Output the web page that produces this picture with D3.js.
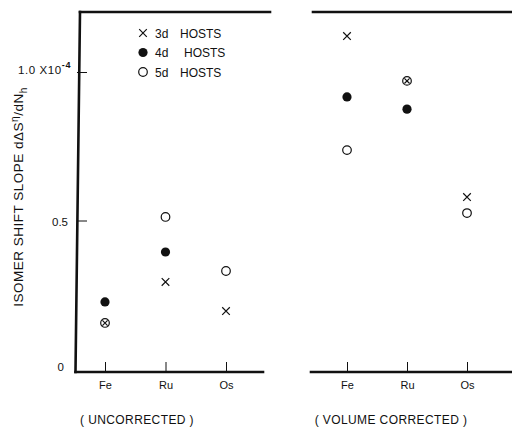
<!DOCTYPE html>
<html>
<head>
<meta charset="utf-8">
<script src="https://cdn.jsdelivr.net/npm/d3@7"></script>
<style>
  body { margin: 0; background: #fff; }
  text { font-family: "Liberation Sans", Arial, sans-serif; fill: #111; }
</style>
</head>
<body>
<div id="graph"></div>
<script>
// values (units of 1e-4)
var elements = ['Fe', 'Ru', 'Os'];
var hosts = ['3d', '4d', '5d'];
var uncorr3d = [0.155, 0.293, 0.195];
var uncorr4d = [0.226, 0.394, null];
var uncorr5d = [0.155, 0.512, 0.330];
var corr3d = [1.121, 0.970, 0.579];
var corr4d = [0.916, 0.875, null];
var corr5d = [0.737, 0.970, 0.525];
var yTicks = [0, 0.5, 1.0];

var width = 512, height = 427;
var ink = '#111';

var svg = d3.select('#graph')
    .append('svg')
        .attr('width', width)
        .attr('height', height);

var y = d3.scaleLinear()
    .domain([0, 1])
    .range([369, 72]);

var xLeft = d3.scalePoint().domain(elements).range([105, 226]);
var xRight = d3.scalePoint().domain(elements).range([347, 467]);

// frame lines (thick, like the ink drawing)
var frame = svg.append('g')
    .attr('stroke', ink)
    .attr('stroke-width', 2.6)
    .attr('stroke-linecap', 'square');
frame.append('line').attr('x1', 80).attr('y1', 12).attr('x2', 75.5).attr('y2', 372);
frame.append('line').attr('x1', 80).attr('y1', 12).attr('x2', 270).attr('y2', 12);
frame.append('line').attr('x1', 313).attr('y1', 12).attr('x2', 512).attr('y2', 12);
frame.append('line').attr('x1', 75.5).attr('y1', 372).attr('x2', 263).attr('y2', 372);
frame.append('line').attr('x1', 311).attr('y1', 372).attr('x2', 512).attr('y2', 372);

// y axis
var yAxis = svg.append('g')
    .attr('transform', 'translate(77,0)')
    .call(d3.axisLeft(y)
        .tickValues(yTicks)
        .tickSize(-10)
        .tickPadding(9)
        .tickFormat(function(d) {
            if (d == 0) return '0';
            if (d == 0.5) return '0.5';
            return '1.0 X10';
        }));
yAxis.select('.domain').remove();
yAxis.selectAll('.tick line')
    .attr('stroke', ink)
    .attr('stroke-width', 1)
    .attr('opacity', function(d) { return d == 0 ? 0 : 1; });
yAxis.selectAll('.tick text')
    .attr('font-size', 11.5)
    .attr('font-family', '"Liberation Sans", Arial, sans-serif')
    .attr('fill', ink)
    .attr('x', function(d) { return d == 0 ? -13 : d == 1 ? -6 : -9; })
    .attr('letter-spacing', function(d) { return d == 1 ? 0.6 : 0; })
    .attr('dy', function(d) { return d == 0 ? '0.1em' : d == 1 ? '0.1em' : '0.4em'; });
yAxis.selectAll('.tick text')
    .filter(function(d) { return d == 1; })
    .append('tspan')
        .attr('dy', -6)
        .attr('font-size', 9)
        .attr('font-weight', 'bold')
        .text('-4');

// x axes
function drawX(scale) {
    var g = svg.append('g')
        .attr('transform', 'translate(0,372)')
        .call(d3.axisBottom(scale).tickSize(-10).tickPadding(9));
    g.select('.domain').remove();
    g.selectAll('.tick line').attr('stroke', ink).attr('stroke-width', 1);
    g.selectAll('.tick text')
        .attr('font-size', 11)
        .attr('font-family', '"Liberation Sans", Arial, sans-serif')
        .attr('fill', ink);
}
drawX(xLeft);
drawX(xRight);

// markers
function cross(g, cx, cy, h) {
    g.append('path')
        .attr('d', 'M' + (cx - h) + ',' + (cy - h) + 'L' + (cx + h) + ',' + (cy + h) +
                   'M' + (cx - h) + ',' + (cy + h) + 'L' + (cx + h) + ',' + (cy - h))
        .attr('stroke', ink)
        .attr('stroke-width', 1.2)
        .attr('fill', 'none');
}
function dot(g, cx, cy) {
    g.append('circle').attr('cx', cx).attr('cy', cy).attr('r', 4.6).attr('fill', ink);
}
function ring(g, cx, cy) {
    g.append('circle').attr('cx', cx).attr('cy', cy).attr('r', 4.3)
        .attr('fill', 'none').attr('stroke', ink).attr('stroke-width', 1.2);
}

function drawPanel(scale, s3, s4, s5) {
    var g = svg.append('g');
    elements.forEach(function(el, i) {
        var cx = scale(el);
        if (s5[i] != null) ring(g, cx, y(s5[i]));
        if (s4[i] != null) dot(g, cx, y(s4[i]));
        if (s3[i] != null) {
            var inside = s5[i] != null && s5[i] == s3[i];
            cross(g, cx, y(s3[i]), inside ? 2.6 : 3.8);
        }
    });
}
drawPanel(xLeft, uncorr3d, uncorr4d, uncorr5d);
drawPanel(xRight, corr3d, corr4d, corr5d);

// legend
var legend = svg.append('g');
hosts.forEach(function(h, i) {
    var ly = 33 + i * 19.5;
    if (i == 0) cross(legend, 143, ly, 3.8);
    if (i == 1) dot(legend, 143, ly);
    if (i == 2) ring(legend, 143, ly);
    legend.append('text').attr('x', 155).attr('y', ly + 4.5)
        .attr('font-size', 12).text(h);
    legend.append('text').attr('x', i == 1 ? 184 : 180).attr('y', ly + 4.5)
        .attr('font-size', 12).text('HOSTS');
});

// y axis title
var title = svg.append('text')
    .attr('transform', 'translate(23,197) rotate(-90)')
    .attr('text-anchor', 'middle')
    .attr('font-size', 13.5)
    .attr('letter-spacing', 0.5);
title.append('tspan').text('ISOMER SHIFT SLOPE  d\u0394S');
title.append('tspan').attr('dy', -5).attr('font-size', 10).text('\u03b7');
title.append('tspan').attr('dy', 5).text('/dN');
title.append('tspan').attr('dy', 4).attr('font-size', 10).text('h');

// panel captions
svg.append('text').attr('x', 137).attr('y', 424).attr('text-anchor', 'middle')
    .attr('font-size', 12).attr('letter-spacing', 0.4).text('( UNCORRECTED )');
svg.append('text').attr('x', 391).attr('y', 424).attr('text-anchor', 'middle')
    .attr('font-size', 12).attr('letter-spacing', 0.4).text('( VOLUME CORRECTED )');
</script>
</body>
</html>
